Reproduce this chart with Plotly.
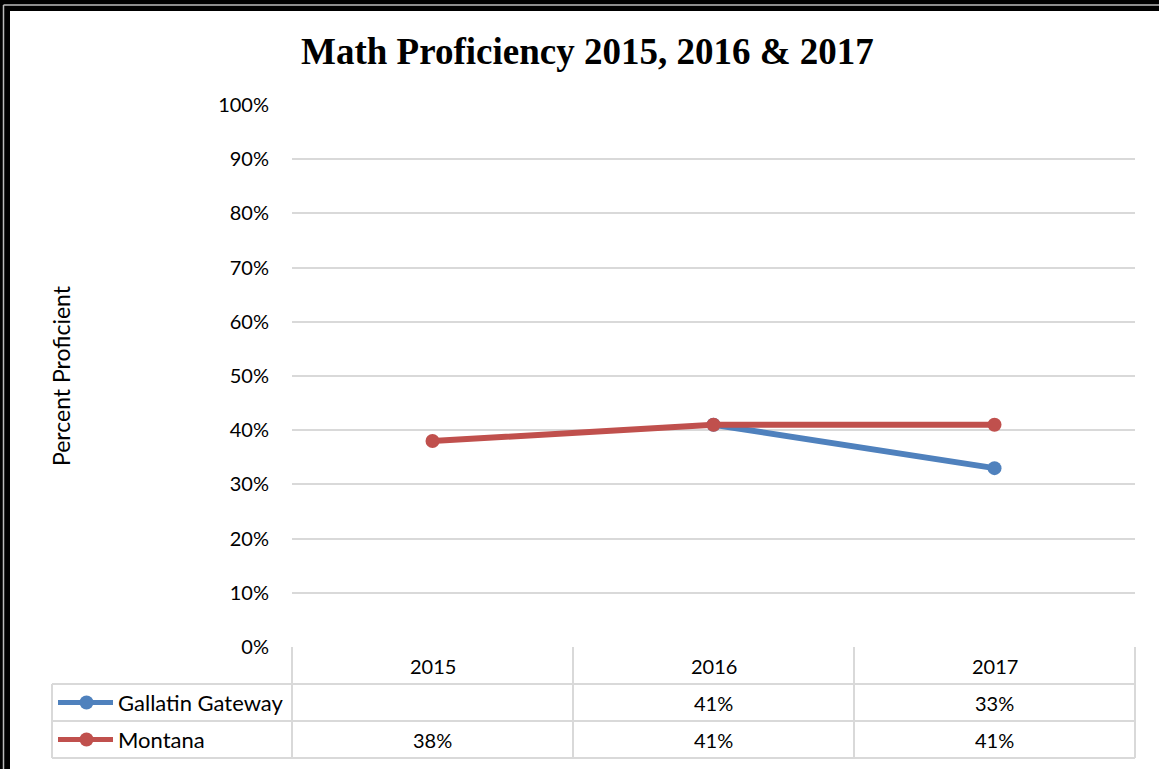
import plotly.graph_objects as go

# Chart data
years = ["2015", "2016", "2017"]
gallatin = [None, 0.41, 0.33]
montana = [0.38, 0.41, 0.41]
series_names = ["Gallatin Gateway", "Montana"]
series_colors = ["#4F81BD", "#C0504D"]
y_ticks = [0, 0.1, 0.2, 0.3, 0.4, 0.5, 0.6, 0.7, 0.8, 0.9, 1.0]
y_tick_labels = ["0%", "10%", "20%", "30%", "40%", "50%", "60%", "70%", "80%", "90%", "100%"]

W, H = 1159, 769
BODY_FONT = "Lato, 'Open Sans', sans-serif"


def px(x):
    return x / W


def py(y):
    return 1 - y / H


# plot area in pixels
X0, X1 = 292, 1135
Y_TOP, Y_BOT = 105, 647
ROW_H = 37

fig = go.Figure()
all_series = [gallatin, montana]
for name, vals, col in zip(series_names, all_series, series_colors):
    fig.add_trace(go.Scatter(
        x=list(range(len(years))), y=vals, name=name, mode="lines+markers",
        line=dict(color=col, width=6), marker=dict(color=col, size=14),
        connectgaps=False, showlegend=False, cliponaxis=False,
    ))

shapes = []
annotations = []
grid_col = "#D9D9D9"


def label(x, y, text, size, xref="paper", xanchor="center", **kw):
    annotations.append(dict(x=x, y=y, xref=xref, yref="paper", text=text, showarrow=False,
                            xanchor=xanchor, yanchor="middle",
                            font=dict(family=kw.pop("family", BODY_FONT), size=size, color="#000"),
                            **kw))


# data table grid lines
col_edges = [X0 + i * (X1 - X0) / len(years) for i in range(len(years) + 1)]
table_top = Y_BOT
table_bottom = Y_BOT + ROW_H * 3
LEG_X = 52
for xe in col_edges:
    shapes.append(dict(type="line", xref="paper", yref="paper", x0=px(xe), x1=px(xe),
                       y0=py(table_top), y1=py(table_bottom), line=dict(color=grid_col, width=2)))
shapes.append(dict(type="line", xref="paper", yref="paper", x0=px(LEG_X), x1=px(LEG_X),
                   y0=py(table_top + ROW_H), y1=py(table_bottom), line=dict(color=grid_col, width=2)))
for r in range(1, 4):
    yy = table_top + ROW_H * r
    shapes.append(dict(type="line", xref="paper", yref="paper", x0=px(LEG_X), x1=px(X1),
                       y0=py(yy), y1=py(yy), line=dict(color=grid_col, width=2)))

# header row: years
for i, yr in enumerate(years):
    label(i, py(table_top + ROW_H / 2), yr, 20, xref="x")

# value rows with legend keys
for r, (name, vals, col) in enumerate(zip(series_names, all_series, series_colors)):
    yc = table_top + ROW_H * (r + 1) + ROW_H / 2
    for i, v in enumerate(vals):
        if v is not None:
            label(i, py(yc), f"{round(v * 100)}%", 20, xref="x")
    shapes.append(dict(type="line", xref="paper", yref="paper", x0=px(58), x1=px(113),
                       y0=py(yc), y1=py(yc), line=dict(color=col, width=5)))
    shapes.append(dict(type="circle", xref="paper", yref="paper", x0=px(79.5), x1=px(93.5),
                       y0=py(yc - 7), y1=py(yc + 7), fillcolor=col, line=dict(width=0)))
    label(px(116), py(yc), name, 22, xanchor="left")

# frame along top and left edges
shapes += [
    dict(type="rect", xref="paper", yref="paper", x0=0, x1=1, y0=py(11), y1=1,
         fillcolor="#000", line=dict(width=0), layer="above"),
    dict(type="rect", xref="paper", yref="paper", x0=0, x1=px(10), y0=0, y1=1,
         fillcolor="#000", line=dict(width=0), layer="above"),
    dict(type="line", xref="paper", yref="paper", x0=px(3.5), x1=1, y0=py(5), y1=py(5),
         line=dict(color="#BBBBBB", width=1.5), layer="above"),
    dict(type="line", xref="paper", yref="paper", x0=px(3.5), x1=px(3.5), y0=py(5), y1=0,
         line=dict(color="#BBBBBB", width=1.5), layer="above"),
]

# title and axis title
label(px(587), py(52), "<b>Math Proficiency 2015, 2016 &amp; 2017</b>", 37,
      family="'Liberation Serif', 'Times New Roman', serif")
label(px(61), py(376), "Percent Proficient", 23, textangle=-90)

fig.update_layout(
    width=W, height=H, margin=dict(l=0, r=0, t=0, b=0, autoexpand=False),
    paper_bgcolor="white", plot_bgcolor="white",
    shapes=shapes, annotations=annotations,
    xaxis=dict(domain=[px(X0), px(X1)], range=[-0.5, len(years) - 0.5],
               showticklabels=False, showgrid=False, zeroline=False, fixedrange=True),
    yaxis=dict(domain=[py(Y_BOT), py(Y_TOP)], range=[0, 1], tickvals=y_ticks,
               ticktext=y_tick_labels, showgrid=True, gridcolor=grid_col, gridwidth=2,
               zeroline=False, ticks="", ticklabelstandoff=22, automargin=False,
               tickfont=dict(family=BODY_FONT, size=20, color="#000")),
)

fig.write_html("out.html")
